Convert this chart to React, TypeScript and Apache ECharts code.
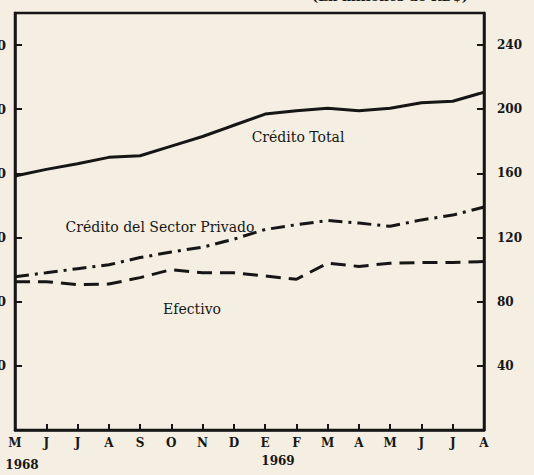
import React, { useEffect, useRef } from "react";
import * as echarts from "echarts";

const months = ["M", "J", "J", "A", "S", "O", "N", "D", "E", "F", "M", "A", "M", "J", "J", "A"];
const creditoTotal = [158.4, 162.5, 166, 170, 171, 177, 183, 190, 197, 199, 200.6, 199, 200.6, 204, 205, 210.6];
const creditoPrivado = [95.6, 98, 100.6, 103, 107.5, 111, 114, 119, 125, 128, 130.6, 129, 127, 131, 134, 139];
const efectivo = [92.5, 92.5, 90.6, 91, 95, 100, 98, 98, 96, 94, 104, 102, 104, 104.4, 104.4, 105];
const rightTicks = [40, 80, 120, 160, 200, 240];
const leftTicks = [40, 80, 120, 160, 200, 240];
const yearLabels = ["1968", "1969"];
const title = "(En millones de RD$)";

const INK = "#161616";
const FONT = "DejaVu Serif";

export default function App() {
  const ref = useRef<HTMLDivElement>(null);
  useEffect(() => {
    if (!ref.current) return;
    const chart = echarts.init(ref.current, null, { renderer: "svg" });
    const labelStyle = { color: INK, fontFamily: FONT, fontSize: 12, fontWeight: "bold" as const };
    chart.setOption({
      animation: false,
      backgroundColor: "#f4efe2",
      grid: {
        left: 45, right: 50, top: 23, bottom: 45,
        show: true, borderColor: INK, borderWidth: 2.5, backgroundColor: "transparent",
      },
      xAxis: {
        type: "category",
        data: months,
        boundaryGap: false,
        axisLine: { show: true, lineStyle: { color: INK, width: 2.5 } },
        axisTick: { show: true, inside: true, length: 6, lineStyle: { color: INK, width: 2 } },
        axisLabel: { ...labelStyle, margin: 7, interval: 0 },
        splitLine: { show: false },
      },
      yAxis: [
        {
          type: "value", position: "left", min: 0, max: 260, interval: 40,
          axisLine: { show: true, lineStyle: { color: INK, width: 2.5 } },
          axisTick: { show: true, inside: true, length: 7, lineStyle: { color: INK, width: 2 } },
          axisLabel: {
            ...labelStyle, fontSize: 13, margin: 9, showMinLabel: false, showMaxLabel: false,
            formatter: (v: number) => { const i = rightTicks.indexOf(v); return i >= 0 ? String(leftTicks[i]) : ""; },
          },
          splitLine: { show: false },
        },
        {
          type: "value", position: "right", min: 0, max: 260, interval: 40,
          axisLine: { show: true, lineStyle: { color: INK, width: 2.5 } },
          axisTick: { show: true, inside: true, length: 7, lineStyle: { color: INK, width: 2 } },
          axisLabel: {
            ...labelStyle, fontSize: 12, margin: 13, showMinLabel: false, showMaxLabel: false,
            formatter: (v: number) => (rightTicks.indexOf(v) >= 0 ? String(v) : ""),
          },
          splitLine: { show: false },
        },
      ],
      series: [
        {
          name: "Crédito Total", type: "line", data: creditoTotal, yAxisIndex: 1,
          symbol: "none", lineStyle: { color: INK, width: 3 },
        },
        {
          name: "Crédito del Sector Privado", type: "line", data: creditoPrivado, yAxisIndex: 1,
          symbol: "none", lineStyle: { color: INK, width: 3, type: [14, 6, 3, 6] },
        },
        {
          name: "Efectivo", type: "line", data: efectivo, yAxisIndex: 1,
          symbol: "none", lineStyle: { color: INK, width: 3, type: [15, 8] },
        },
      ],
      graphic: [
        { type: "text", x: 420, y: 6, style: { text: title, fill: INK, font: `bold 13px '${FONT}'`, textAlign: "center", textVerticalAlign: "middle" } },
        { type: "text", x: 328, y: 147, style: { text: "Crédito Total", fill: INK, font: `14px '${FONT}'`, textAlign: "center", textVerticalAlign: "middle" } },
        { type: "text", x: 190, y: 237, style: { text: "Crédito del Sector Privado", fill: INK, font: `14px '${FONT}'`, textAlign: "center", textVerticalAlign: "middle" } },
        { type: "text", x: 222, y: 319, style: { text: "Efectivo", fill: INK, font: `14px '${FONT}'`, textAlign: "center", textVerticalAlign: "middle" } },
        { type: "text", x: 52, y: 475, style: { text: yearLabels[0], fill: INK, font: `bold 12px '${FONT}'`, textAlign: "center", textVerticalAlign: "middle" } },
        { type: "text", x: 308, y: 471, style: { text: yearLabels[1], fill: INK, font: `bold 12px '${FONT}'`, textAlign: "center", textVerticalAlign: "middle" } },
      ],
    });
    return () => chart.dispose();
  }, []);
  return (
    <div
      ref={ref}
      style={{ position: "fixed", left: -30, top: -10, width: 564, height: 485 }}
    />
  );
}
